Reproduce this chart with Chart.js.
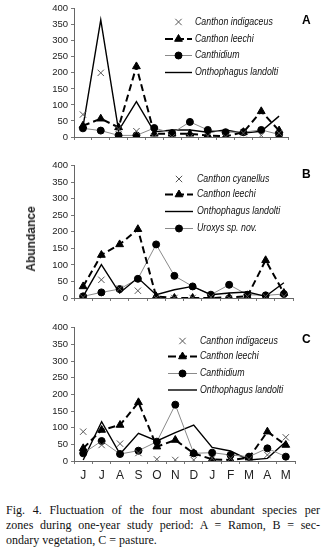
<!DOCTYPE html>
<html>
<head>
<meta charset="utf-8">
<script src="https://cdn.jsdelivr.net/npm/chart.js@4/dist/chart.umd.min.js"></script>
<style>
  body { margin: 0; background: #fff; width: 325px; height: 556px; position: relative; overflow: hidden; }
  .panel { position: absolute; left: 0; width: 325px; }
  #abund { position: absolute; left: 31px; top: 239px; transform: translate(-50%, -50%) rotate(-90deg);
           font: bold 12px "Liberation Sans", Arial, sans-serif; color: #222; white-space: nowrap; }
  #caption { position: absolute; left: 6px; top: 503px; width: 314px;
             font: 12px "Liberation Serif", "Times New Roman", serif; color: #111; line-height: 15px; }
  #caption div { text-align: justify; text-align-last: justify; white-space: nowrap; }
  #caption div.last { text-align-last: left; }
</style>
</head>
<body>
<div class="panel" style="top:0;height:150px"><canvas id="chartA"></canvas></div>
<div class="panel" style="top:157px;height:150px"><canvas id="chartB"></canvas></div>
<div class="panel" style="top:319px;height:171px"><canvas id="chartC"></canvas></div>
<div id="abund">Abundance</div>
<div id="caption">
  <div>Fig. 4. Fluctuation of the four most abundant species per</div>
  <div>zones during one-year study period: A = Ramon, B = sec-</div>
  <div class="last">ondary vegetation, C = pasture.</div>
</div>
<script>
// ── Data ─────────────────────────────────────────────────────────────────
const months = ['J', 'J', 'A', 'S', 'O', 'N', 'D', 'J', 'F', 'M', 'A', 'M'];
const yTicks = [0, 50, 100, 150, 200, 250, 300, 350, 400];

// A = Ramon
const aIndigaceus = [70, 200, 25, 18, 0, 0, 0, 3, 0, 12, 5, 12];
const aLeechi     = [35, 57, 30, 220, 10, 10, 10, 5, 2, 15, 80, 20];
const aCanthidium = [27, 20, 5, 5, 28, 12, 47, 22, 15, 15, 22, 8];
const aLandolti   = [30, 365, 20, 110, 16, 22, 22, 15, 22, 12, 18, 65];

// B = secondary vegetation
const bCyanellus  = [2, 55, 28, 22, 0, 0, 0, 3, 0, 5, 5, 5];
const bLeechi     = [35, 130, 162, 208, 5, 0, 0, 0, 2, 5, 114, 15];
const bLandolti   = [5, 101, 15, 61, 10, 25, 35, 10, 15, 18, 5, 46];
const bUroxys     = [5, 17, 27, 58, 162, 67, 35, 10, 40, 10, 8, 12];

// C = pasture
const cIndigaceus = [88, 48, 52, 24, 5, 3, 3, 8, 8, 5, 18, 71];
const cLeechi     = [38, 93, 108, 176, 43, 63, 23, 5, 3, 10, 88, 48];
const cCanthidium = [23, 60, 21, 31, 58, 169, 23, 25, 18, 13, 38, 13];
const cLandolti   = [3, 118, 21, 83, 60, 85, 108, 41, 30, 3, 8, 58];

// ── Series styles ────────────────────────────────────────────────────────
const styleCross = {
  showLine: false, pointStyle: 'crossRot', pointRadius: 4.5,
  borderColor: '#555', pointBorderColor: '#555', pointBorderWidth: 1, borderWidth: 1
};
const styleLeechi = {
  borderColor: '#000', borderWidth: 2, borderDash: [7, 4],
  pointStyle: 'triangle', pointRadius: 4.5, pointBackgroundColor: '#000', pointBorderColor: '#000', pointBorderWidth: 1
};
const styleCircle = {
  borderColor: '#8a8a8a', borderWidth: 1,
  pointStyle: 'circle', pointRadius: 3.5, pointBackgroundColor: '#000', pointBorderColor: '#000', pointBorderWidth: 1
};
const styleSolid = { borderColor: '#000', borderWidth: 1.4, pointRadius: 0 };

// ── Legend + panel letter drawn inside each canvas ───────────────────────
const panelLegend = {
  id: 'panelLegend',
  afterDraw(chart, args, opts) {
    const ctx = chart.ctx;
    chart.data.datasets.forEach((ds, i) => {
      const y = opts.rows[i];
      ctx.save();
      if (ds.showLine !== false) {
        ctx.strokeStyle = ds.borderColor;
        ctx.lineWidth = ds.borderWidth;
        ctx.setLineDash(ds.borderDash ? [8, 3] : []);
        ctx.beginPath();
        ctx.moveTo(opts.x0, y);
        ctx.lineTo(opts.x1, y);
        ctx.stroke();
        ctx.setLineDash([]);
      }
      if (ds.pointRadius > 0) {
        ctx.fillStyle = ds.pointBackgroundColor || ds.borderColor;
        ctx.strokeStyle = ds.pointBorderColor || ds.borderColor;
        ctx.lineWidth = ds.pointBorderWidth || 1;
        Chart.helpers.drawPoint(ctx, { pointStyle: ds.pointStyle, radius: ds.pointRadius, borderWidth: ds.pointBorderWidth, rotation: 0 },
          (opts.x0 + opts.x1) / 2, y);
      }
      ctx.restore();

      ctx.save();
      ctx.fillStyle = '#111';
      ctx.font = 'italic 10px "Liberation Sans", Arial, sans-serif';
      ctx.textBaseline = 'middle';
      ctx.translate(opts.textX, y);
      ctx.scale(0.88, 1);
      ctx.fillText(ds.label, 0, 0);
      ctx.restore();
    });
    ctx.save();
    ctx.fillStyle = '#000';
    ctx.font = 'bold 12px "Liberation Sans", Arial, sans-serif';
    ctx.textBaseline = 'middle';
    ctx.fillText(opts.letter, 302, opts.letterY);
    ctx.restore();
  }
};

function makePanel(id, series, legend, rightPad, xHeight, showMonths) {
  return new Chart(document.getElementById(id), {
    type: 'line',
    data: {
      labels: months,
      datasets: series.map(s => Object.assign({ label: s.label, data: s.data, tension: 0, fill: false }, s.style))
    },
    options: {
      responsive: true,
      maintainAspectRatio: false,
      animation: false,
      layout: { padding: { left: 0, right: rightPad, top: 8, bottom: 0 } },
      plugins: { legend: { display: false }, tooltip: { enabled: false }, panelLegend: legend },
      scales: {
        x: {
          offset: true,
          grid: { drawOnChartArea: false, drawTicks: true, tickLength: 3, offset: true, color: '#777' },
          border: { display: true, color: '#666', width: 1 },
          ticks: {
            display: showMonths, color: '#222', padding: 4,
            font: { family: '"Liberation Sans", Arial, sans-serif', size: 12 }
          },
          afterFit: s => { s.height = xHeight; }
        },
        y: {
          min: 0, max: 400,
          afterBuildTicks: s => { s.ticks = yTicks.map(v => ({ value: v })); },
          grid: { drawOnChartArea: false, drawTicks: true, tickLength: 3, color: '#777' },
          border: { display: true, color: '#666', width: 1 },
          ticks: { color: '#222', padding: 3, font: { family: '"Liberation Sans", Arial, sans-serif', size: 9.5 } },
          afterFit: s => { s.width = 74; }
        }
      }
    },
    plugins: [panelLegend]
  });
}

makePanel('chartA', [
  { label: 'Canthon indigaceus',   data: aIndigaceus, style: styleCross },
  { label: 'Canthon leechi',       data: aLeechi,     style: styleLeechi },
  { label: 'Canthidium',           data: aCanthidium, style: styleCircle },
  { label: 'Onthophagus landolti', data: aLandolti,   style: styleSolid }
], { x0: 165, x1: 192, textX: 195, rows: [22, 39, 55.5, 72.5], letter: 'A', letterY: 21 }, 37, 13, false);

makePanel('chartB', [
  { label: 'Canthon cyanellus',    data: bCyanellus, style: styleCross },
  { label: 'Canthon leechi',       data: bLeechi,    style: styleLeechi },
  { label: 'Onthophagus landolti', data: bLandolti,  style: styleSolid },
  { label: 'Uroxys sp. nov.',      data: bUroxys,    style: styleCircle }
], { x0: 165, x1: 193, textX: 197, rows: [22, 37.5, 54.5, 71.5], letter: 'B', letterY: 18 }, 32, 9, false);

makePanel('chartC', [
  { label: 'Canthon indigaceus',   data: cIndigaceus, style: styleCross },
  { label: 'Canthon leechi',       data: cLeechi,     style: styleLeechi },
  { label: 'Canthidium',           data: cCanthidium, style: styleCircle },
  { label: 'Onthophagus landolti', data: cLandolti,   style: styleSolid }
], { x0: 168, x1: 197, textX: 200, rows: [22, 37.5, 54.5, 71], letter: 'C', letterY: 21 }, 30, 29, true);
</script>
</body>
</html>
